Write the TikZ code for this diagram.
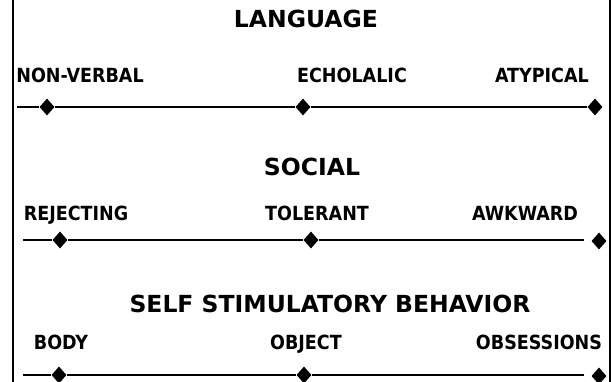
\documentclass[tikz,border=0pt]{standalone}
\usepackage{fontspec}
\setmainfont{DejaVu Sans}
\newfontfamily\narrowsans{DejaVu Sans Condensed}
\usepackage{tikz}
\usetikzlibrary{shapes.geometric}

\begin{document}
\begin{tikzpicture}[x=1pt, y=-1pt,
      heading/.style={anchor=base, inner sep=0pt, font=\bfseries\fontsize{23.5}{27}\selectfont},
      label/.style={anchor=base, inner sep=0pt, font=\narrowsans\bfseries\fontsize{19.5}{22}\selectfont},
      gem/.style={diamond, fill=black, inner sep=0pt, minimum width=15pt, minimum height=17pt},
      scale line/.style={draw=black, line width=1.5pt}
    ]
    \useasboundingbox (0,0) rectangle (614,382);

    % frame sides
    \draw[line width=2pt] (13,0) -- (13,382);
    \draw[line width=2pt] (610,0) -- (610,382);

    % language
    \node[heading] (lang) at (306,28) {LANGUAGE};
    \node[label] (nonverbal) at (80,83) {NON-VERBAL};
    \node[label] (echolalic) at (352,83) {ECHOLALIC};
    \node[label] (atypical) at (542,83) {ATYPICAL};
    \coordinate (langstart) at (17,107);
    \node[gem] (dnonverbal) at (47,107) {};
    \node[gem] (decholalic) at (303,107) {};
    \node[gem] (datypical) at (595,107) {};
    \draw[scale line] (langstart) -- (dnonverbal) -- (decholalic) -- (datypical);

    % social
    \node[heading] (social) at (312,176) {SOCIAL};
    \node[label] (rejecting) at (76,221) {REJECTING};
    \node[label] (tolerant) at (317,221) {TOLERANT};
    \node[label] (awkward) at (525,221) {AWKWARD};
    \coordinate (socstart) at (23,240);
    \coordinate (socend) at (584,240);
    \node[gem] (drejecting) at (60,240) {};
    \node[gem] (dtolerant) at (311,240) {};
    \node[gem] (dawkward) at (599,241) {};
    \draw[scale line] (socstart) -- (drejecting) -- (dtolerant) -- (socend);

    % self stimulatory behavior
    \node[heading] (selfstim) at (330,313) {SELF STIMULATORY BEHAVIOR};
    \node[label] (body) at (61,350) {BODY};
    \node[label] (object) at (306,350) {OBJECT};
    \node[label] (obsessions) at (539,350) {OBSESSIONS};
    \coordinate (selfstart) at (23,375);
    \coordinate (selfend) at (584,375);
    \node[gem] (dbody) at (59,375) {};
    \node[gem] (dobject) at (304,375) {};
    \node[gem] (dobsessions) at (599,376) {};
    \draw[scale line] (selfstart) -- (dbody) -- (dobject) -- (selfend);
  \end{tikzpicture}
\end{document}
